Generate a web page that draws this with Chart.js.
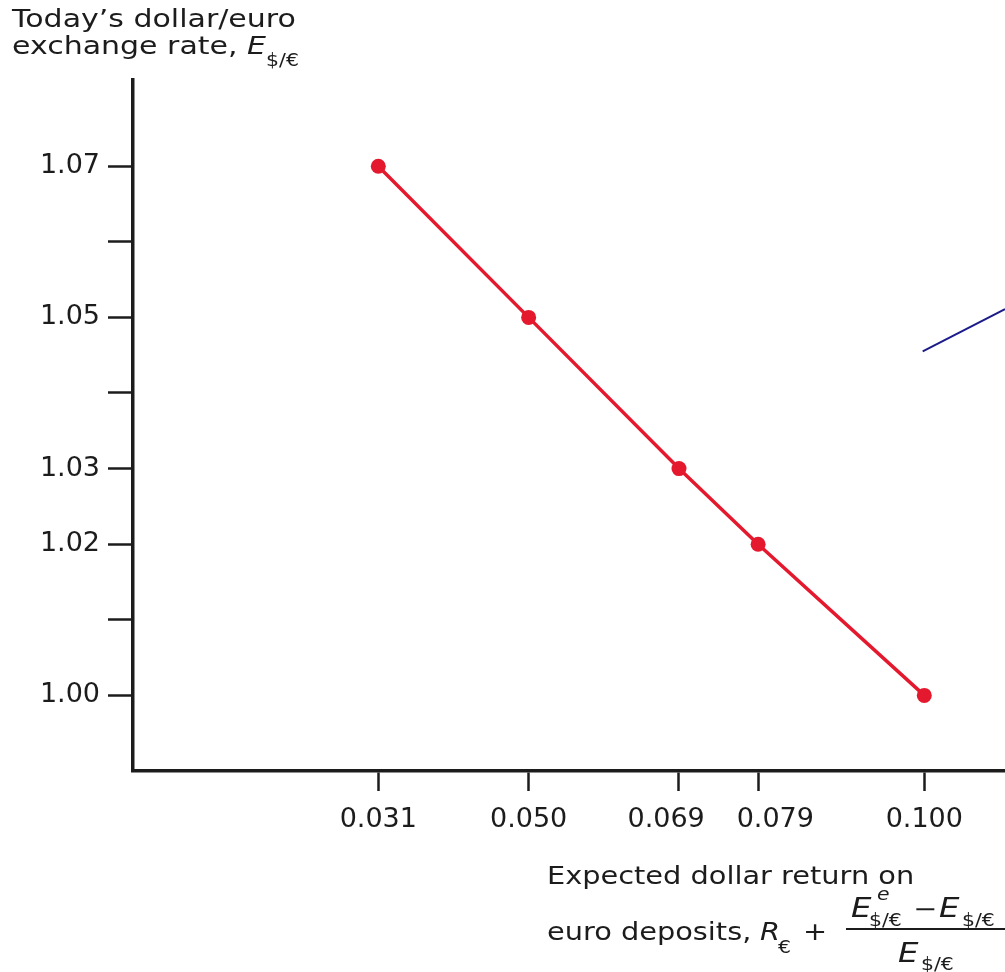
<!DOCTYPE html>
<html>
<head>
<meta charset="utf-8">
<script src="https://cdn.jsdelivr.net/npm/chart.js@4.4.0/dist/chart.umd.min.js"></script>
<style>
  html, body { margin: 0; padding: 0; background: #fff; overflow: hidden; }
  #chart { display: block; }
</style>
</head>
<body>
<canvas id="chart" width="1005" height="972"></canvas>
<script>
// data
const returnValues = [0.031, 0.050, 0.069, 0.079, 0.100];
const rateValues = [1.07, 1.05, 1.03, 1.02, 1.00];
const xTickValues = [0.031, 0.050, 0.069, 0.079, 0.100];
// the two crowded labels are nudged apart in the original, spaces do the same here
const xTickLabels = ['0.031', '0.050', '0.069   ', '    0.079', '0.100'];
const yTickValues = [1.00, 1.01, 1.02, 1.03, 1.04, 1.05, 1.06, 1.07];
const yTickLabels = ['1.00', '', '1.02', '1.03', '', '1.05', '', '1.07'];
// the cut-off annotation line at the right edge
const pointerX = [0.0998, 0.1102];
const pointerY = [1.0455, 1.0511];

const INK = '#1c1c1c';
const RED = '#e4192e';
const FONT = '"DejaVu Sans", sans-serif';
const SX = 1.2; // the source lettering is a little wide

function txt(ctx, s, x, y, size, italic) {
    ctx.save();
    ctx.font = (italic ? 'italic ' : '') + size + 'px ' + FONT;
    ctx.translate(x, y);
    ctx.scale(SX, 1);
    ctx.fillText(s, 0, 0);
    const w = ctx.measureText(s).width * SX;
    ctx.restore();
    return x + w;
}

const labelsPlugin = {
    id: 'axisTitles',
    afterDraw(chart) {
        const ctx = chart.ctx;
        ctx.save();
        ctx.fillStyle = INK;
        ctx.textBaseline = 'alphabetic';
        ctx.textAlign = 'left';

        // y axis title
        txt(ctx, 'Today\u2019s dollar/euro', 12, 27, 25);
        let x = txt(ctx, 'exchange rate, ', 12, 54, 25);
        x = txt(ctx, 'E', x, 54, 25, true);
        txt(ctx, '$/\u20ac', x, 66, 17);

        // x axis title
        txt(ctx, 'Expected dollar return on', 547, 884, 24);
        txt(ctx, 'euro deposits,', 547, 940, 24);
        txt(ctx, 'R', 760, 940, 24, true);
        txt(ctx, '\u20ac', 778, 953, 17);
        txt(ctx, '+', 803, 940, 24);

        // fraction
        txt(ctx, 'E', 851, 917, 27, true);
        txt(ctx, 'e', 877, 900, 17, true);
        txt(ctx, '$/\u20ac', 869, 926, 17);
        txt(ctx, '\u2212', 913, 917, 24);
        txt(ctx, 'E', 939, 917, 27, true);
        txt(ctx, '$/\u20ac', 962, 926, 17);

        ctx.strokeStyle = INK;
        ctx.lineWidth = 2;
        ctx.beginPath();
        ctx.moveTo(846, 929);
        ctx.lineTo(1005, 929);
        ctx.stroke();

        txt(ctx, 'E', 898, 962, 27, true);
        txt(ctx, '$/\u20ac', 921, 970, 17);
        ctx.restore();
    }
};

const ctx = document.getElementById('chart').getContext('2d');
new Chart(ctx, {
    type: 'line',
    data: {
        datasets: [
            {
                data: returnValues.map((v, i) => ({ x: v, y: rateValues[i] })),
                borderColor: RED,
                backgroundColor: RED,
                borderWidth: 3.5,
                pointRadius: 7.5,
                pointBorderWidth: 0,
                pointBackgroundColor: RED,
                tension: 0,
                fill: false
            },
            {
                data: pointerX.map((v, i) => ({ x: v, y: pointerY[i] })),
                borderColor: '#1b1b8a',
                borderWidth: 2,
                pointRadius: 0,
                fill: false
            }
        ]
    },
    options: {
        responsive: false,
        animation: false,
        layout: { autoPadding: false, padding: { top: 80, left: 0, right: 0, bottom: 0 } },
        plugins: {
            legend: { display: false },
            tooltip: { enabled: false }
        },
        scales: {
            x: {
                type: 'linear',
                min: 0,
                max: 0.1102,
                afterBuildTicks: s => { s.ticks = xTickValues.map(v => ({ value: v })); },
                afterFit: s => { s.height = 201; },
                ticks: {
                    autoSkip: false,
                    maxRotation: 0,
                    padding: 13,
                    color: INK,
                    font: { family: FONT, size: 27 },
                    callback: (v, i) => xTickLabels[i]
                },
                grid: {
                    drawOnChartArea: false,
                    drawTicks: true,
                    tickLength: 20,
                    tickColor: INK,
                    tickWidth: 2.5
                },
                border: { color: INK, width: 3.5 }
            },
            y: {
                type: 'linear',
                min: 0.99,
                max: 1.0814,
                afterBuildTicks: s => { s.ticks = yTickValues.map(v => ({ value: v })); },
                afterFit: s => { s.width = 133; },
                ticks: {
                    autoSkip: false,
                    padding: 8,
                    color: INK,
                    font: { family: FONT, size: 27 },
                    callback: (v, i) => yTickLabels[i]
                },
                grid: {
                    drawOnChartArea: false,
                    drawTicks: true,
                    tickLength: 25,
                    tickColor: INK,
                    tickWidth: 2.5
                },
                border: { color: INK, width: 3.5 }
            }
        }
    },
    plugins: [labelsPlugin]
});
</script>
</body>
</html>
